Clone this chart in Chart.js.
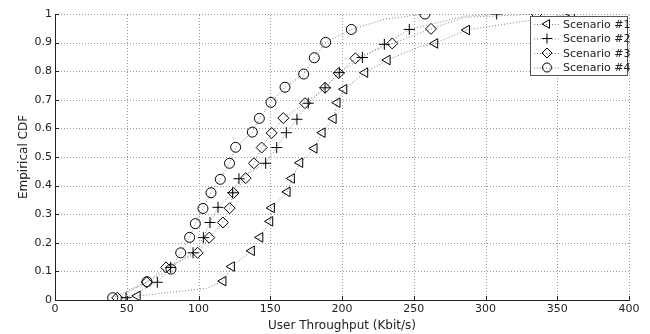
<!DOCTYPE html>
<html>
<head>
<meta charset="utf-8">
<script src="https://cdn.jsdelivr.net/npm/chart.js@4.4.1/dist/chart.umd.min.js"></script>
<style>
  html, body { margin: 0; padding: 0; background: #fff; }
  #wrap { width: 650px; height: 334px; }
</style>
</head>
<body>
<div id="wrap"><canvas id="cdfChart"></canvas></div>
<script>
// marker positions (throughput in Kbit/s, CDF value)
const s1X = [57.4, 117.2, 123.1, 137.0, 142.9, 149.8, 151.0, 161.9, 164.9, 170.7, 180.7, 186.3, 194.0, 196.7, 201.4, 216.0, 231.6, 264.8, 286.9, 360.0];
const s1Y = [0.014, 0.066, 0.117, 0.172, 0.219, 0.275, 0.322, 0.378, 0.425, 0.480, 0.530, 0.585, 0.634, 0.690, 0.737, 0.795, 0.839, 0.897, 0.944, 1.0];
const s2X = [49.5, 71.3, 80.6, 96.2, 103.4, 108.0, 113.6, 123.8, 128.2, 146.8, 154.5, 161.2, 168.6, 176.5, 188.2, 198.1, 214.2, 229.5, 246.9, 307.8];
const s2Y = [0.008, 0.062, 0.114, 0.165, 0.218, 0.271, 0.324, 0.375, 0.424, 0.478, 0.533, 0.585, 0.632, 0.688, 0.742, 0.795, 0.848, 0.894, 0.946, 1.0];
const s3X = [43.4, 63.9, 77.4, 99.4, 107.5, 117.0, 121.7, 124.4, 132.9, 138.6, 144.0, 151.0, 159.1, 174.2, 188.2, 197.7, 209.3, 235.0, 262.0, 335.6];
const s3Y = [0.008, 0.062, 0.114, 0.165, 0.218, 0.271, 0.321, 0.374, 0.426, 0.478, 0.533, 0.584, 0.636, 0.688, 0.742, 0.793, 0.845, 0.897, 0.948, 1.0];
const s4X = [40.2, 64.1, 80.8, 87.6, 93.8, 97.8, 103.1, 108.7, 115.2, 121.6, 125.9, 137.5, 142.4, 150.5, 160.3, 173.3, 180.7, 188.6, 206.5, 257.8];
const s4Y = [0.008, 0.064, 0.108, 0.165, 0.219, 0.267, 0.320, 0.375, 0.422, 0.478, 0.534, 0.587, 0.635, 0.691, 0.744, 0.790, 0.847, 0.901, 0.946, 1.0];

// extra bends of the dotted lines between markers
const s1BendX = [105.7, 254.4];
const s1BendY = [0.041, 0.886];
const s2BendX = [285.0];
const s2BendY = [0.992];
const s3BendX = [285.0];
const s3BendY = [0.988];
const s4BendX = [230.0];
const s4BendY = [0.982];

const names = ['Scenario #1', 'Scenario #2', 'Scenario #3', 'Scenario #4'];
const xTicks = [0, 50, 100, 150, 200, 250, 300, 350, 400];
const yTicks = [0, 0.1, 0.2, 0.3, 0.4, 0.5, 0.6, 0.7, 0.8, 0.9, 1];

const markerStyles = ['triangle', 'cross', 'rectRot', 'circle'];
const markerRotations = [-90, 0, 0, 0];
const markerRadius = [5.5, 5.5, 5.5, 5];
const fontFamily = '"DejaVu Sans", Verdana, sans-serif';

function buildPoints(xs, ys, bx, by) {
    const pts = xs.map((x, i) => ({ x: x, y: ys[i], mark: true }));
    bx.forEach((x, i) => pts.push({ x: x, y: by[i], mark: false }));
    pts.sort((a, b) => a.x - b.x);
    return pts;
}

const series = [
    buildPoints(s1X, s1Y, s1BendX, s1BendY),
    buildPoints(s2X, s2Y, s2BendX, s2BendY),
    buildPoints(s3X, s3Y, s3BendX, s3BendY),
    buildPoints(s4X, s4Y, s4BendX, s4BendY)
];

const datasets = series.map((pts, i) => ({
    label: names[i],
    data: pts,
    borderColor: '#808080',
    borderWidth: 1,
    borderDash: [1, 2],
    pointStyle: markerStyles[i],
    rotation: markerRotations[i],
    pointRadius: ctx => (ctx.raw && ctx.raw.mark ? markerRadius[i] : 0),
    pointBorderColor: '#000',
    pointBackgroundColor: 'rgba(0,0,0,0)',
    pointBorderWidth: 1,
    tension: 0
}));

// dotted grid drawn pixel by pixel so the dots stay crisp
const dottedGrid = {
    id: 'dottedGrid',
    beforeDatasetsDraw(chart) {
        const { ctx, chartArea: a, scales } = chart;
        const top = Math.round(a.top), bottom = Math.round(a.bottom);
        const left = Math.round(a.left), right = Math.round(a.right);
        ctx.save();
        ctx.fillStyle = '#9a9a9a';
        xTicks.forEach(v => {
            const px = Math.round(scales.x.getPixelForValue(v));
            for (let y = bottom; y >= top; y -= 3) ctx.fillRect(px, y, 1, 1);
        });
        yTicks.forEach(v => {
            const py = Math.round(scales.y.getPixelForValue(v));
            for (let x = left; x <= right; x += 3) ctx.fillRect(x, py, 1, 1);
        });
        ctx.restore();
    }
};

// solid left/bottom axis lines and small inward tick marks
const axisLines = {
    id: 'axisLines',
    afterDatasetsDraw(chart) {
        const { ctx, chartArea: a, scales } = chart;
        ctx.save();
        ctx.strokeStyle = '#222';
        ctx.lineWidth = 1;
        ctx.setLineDash([]);
        ctx.beginPath();
        ctx.moveTo(a.left + 0.5, a.top);
        ctx.lineTo(a.left + 0.5, a.bottom + 0.5);
        ctx.lineTo(a.right + 1, a.bottom + 0.5);
        xTicks.forEach(v => {
            const px = Math.round(scales.x.getPixelForValue(v)) + 0.5;
            ctx.moveTo(px, a.bottom);
            ctx.lineTo(px, a.bottom - 4);
        });
        yTicks.forEach(v => {
            const py = Math.round(scales.y.getPixelForValue(v)) + 0.5;
            ctx.moveTo(a.left, py);
            ctx.lineTo(a.left + 4, py);
        });
        ctx.stroke();
        ctx.restore();
    }
};

// legend box in the upper right corner of the plot
const boxLegend = {
    id: 'boxLegend',
    afterDraw(chart) {
        const { ctx, chartArea: a } = chart;
        const w = 97, rowH = 14.5, h = 59;
        const x0 = a.right - w - 2, y0 = a.top + 2;
        ctx.save();
        ctx.fillStyle = '#fff';
        ctx.fillRect(x0, y0, w, h);
        ctx.strokeStyle = '#555';
        ctx.lineWidth = 1;
        ctx.strokeRect(x0 + 0.5, y0 + 0.5, w, h);
        ctx.font = '11px ' + fontFamily;
        ctx.textBaseline = 'middle';
        names.forEach((n, i) => {
            const cy = y0 + 8 + i * rowH;
            ctx.strokeStyle = '#808080';
            ctx.setLineDash([1, 2]);
            ctx.beginPath();
            ctx.moveTo(x0 + 4, cy + 0.5);
            ctx.lineTo(x0 + 30, cy + 0.5);
            ctx.stroke();
            ctx.setLineDash([]);
            ctx.strokeStyle = '#000';
            ctx.fillStyle = 'rgba(0,0,0,0)';
            Chart.helpers.drawPoint(ctx, {
                pointStyle: markerStyles[i],
                rotation: markerRotations[i],
                radius: markerRadius[i] - 0.5,
                borderWidth: 1
            }, x0 + 17, cy);
            ctx.fillStyle = '#222';
            ctx.fillText(n, x0 + 33, cy + 1);
        });
        ctx.restore();
    }
};

new Chart(document.getElementById('cdfChart'), {
    type: 'line',
    data: { datasets: datasets },
    options: {
        responsive: true,
        maintainAspectRatio: false,
        animation: false,
        layout: { padding: { top: 14, right: 21, left: 0, bottom: 0 } },
        plugins: {
            legend: { display: false },
            tooltip: { enabled: false }
        },
        scales: {
            x: {
                type: 'linear',
                min: 0,
                max: 400,
                afterBuildTicks: s => { s.ticks = xTicks.map(v => ({ value: v })); },
                afterFit: s => { s.height = 34; },
                grid: { display: false, drawTicks: false },
                border: { display: false },
                ticks: {
                    color: '#222',
                    padding: 3,
                    maxRotation: 0,
                    callback: v => String(v),
                    font: { family: fontFamily, size: 11 }
                },
                title: {
                    display: true,
                    text: 'User Throughput (Kbit/s)',
                    color: '#222',
                    padding: { top: 0, bottom: 1 },
                    font: { family: fontFamily, size: 12 }
                }
            },
            y: {
                type: 'linear',
                min: 0,
                max: 1,
                afterBuildTicks: s => { s.ticks = yTicks.map(v => ({ value: v })); },
                afterFit: s => { s.width = 55; },
                grid: { display: false, drawTicks: false },
                border: { display: false },
                ticks: {
                    color: '#222',
                    padding: 3,
                    callback: v => String(v),
                    font: { family: fontFamily, size: 11 }
                },
                title: {
                    display: true,
                    text: 'Empirical CDF',
                    color: '#222',
                    padding: { top: 17, bottom: 0 },
                    font: { family: fontFamily, size: 12 }
                }
            }
        }
    },
    plugins: [dottedGrid, axisLines, boxLegend]
});
</script>
</body>
</html>
